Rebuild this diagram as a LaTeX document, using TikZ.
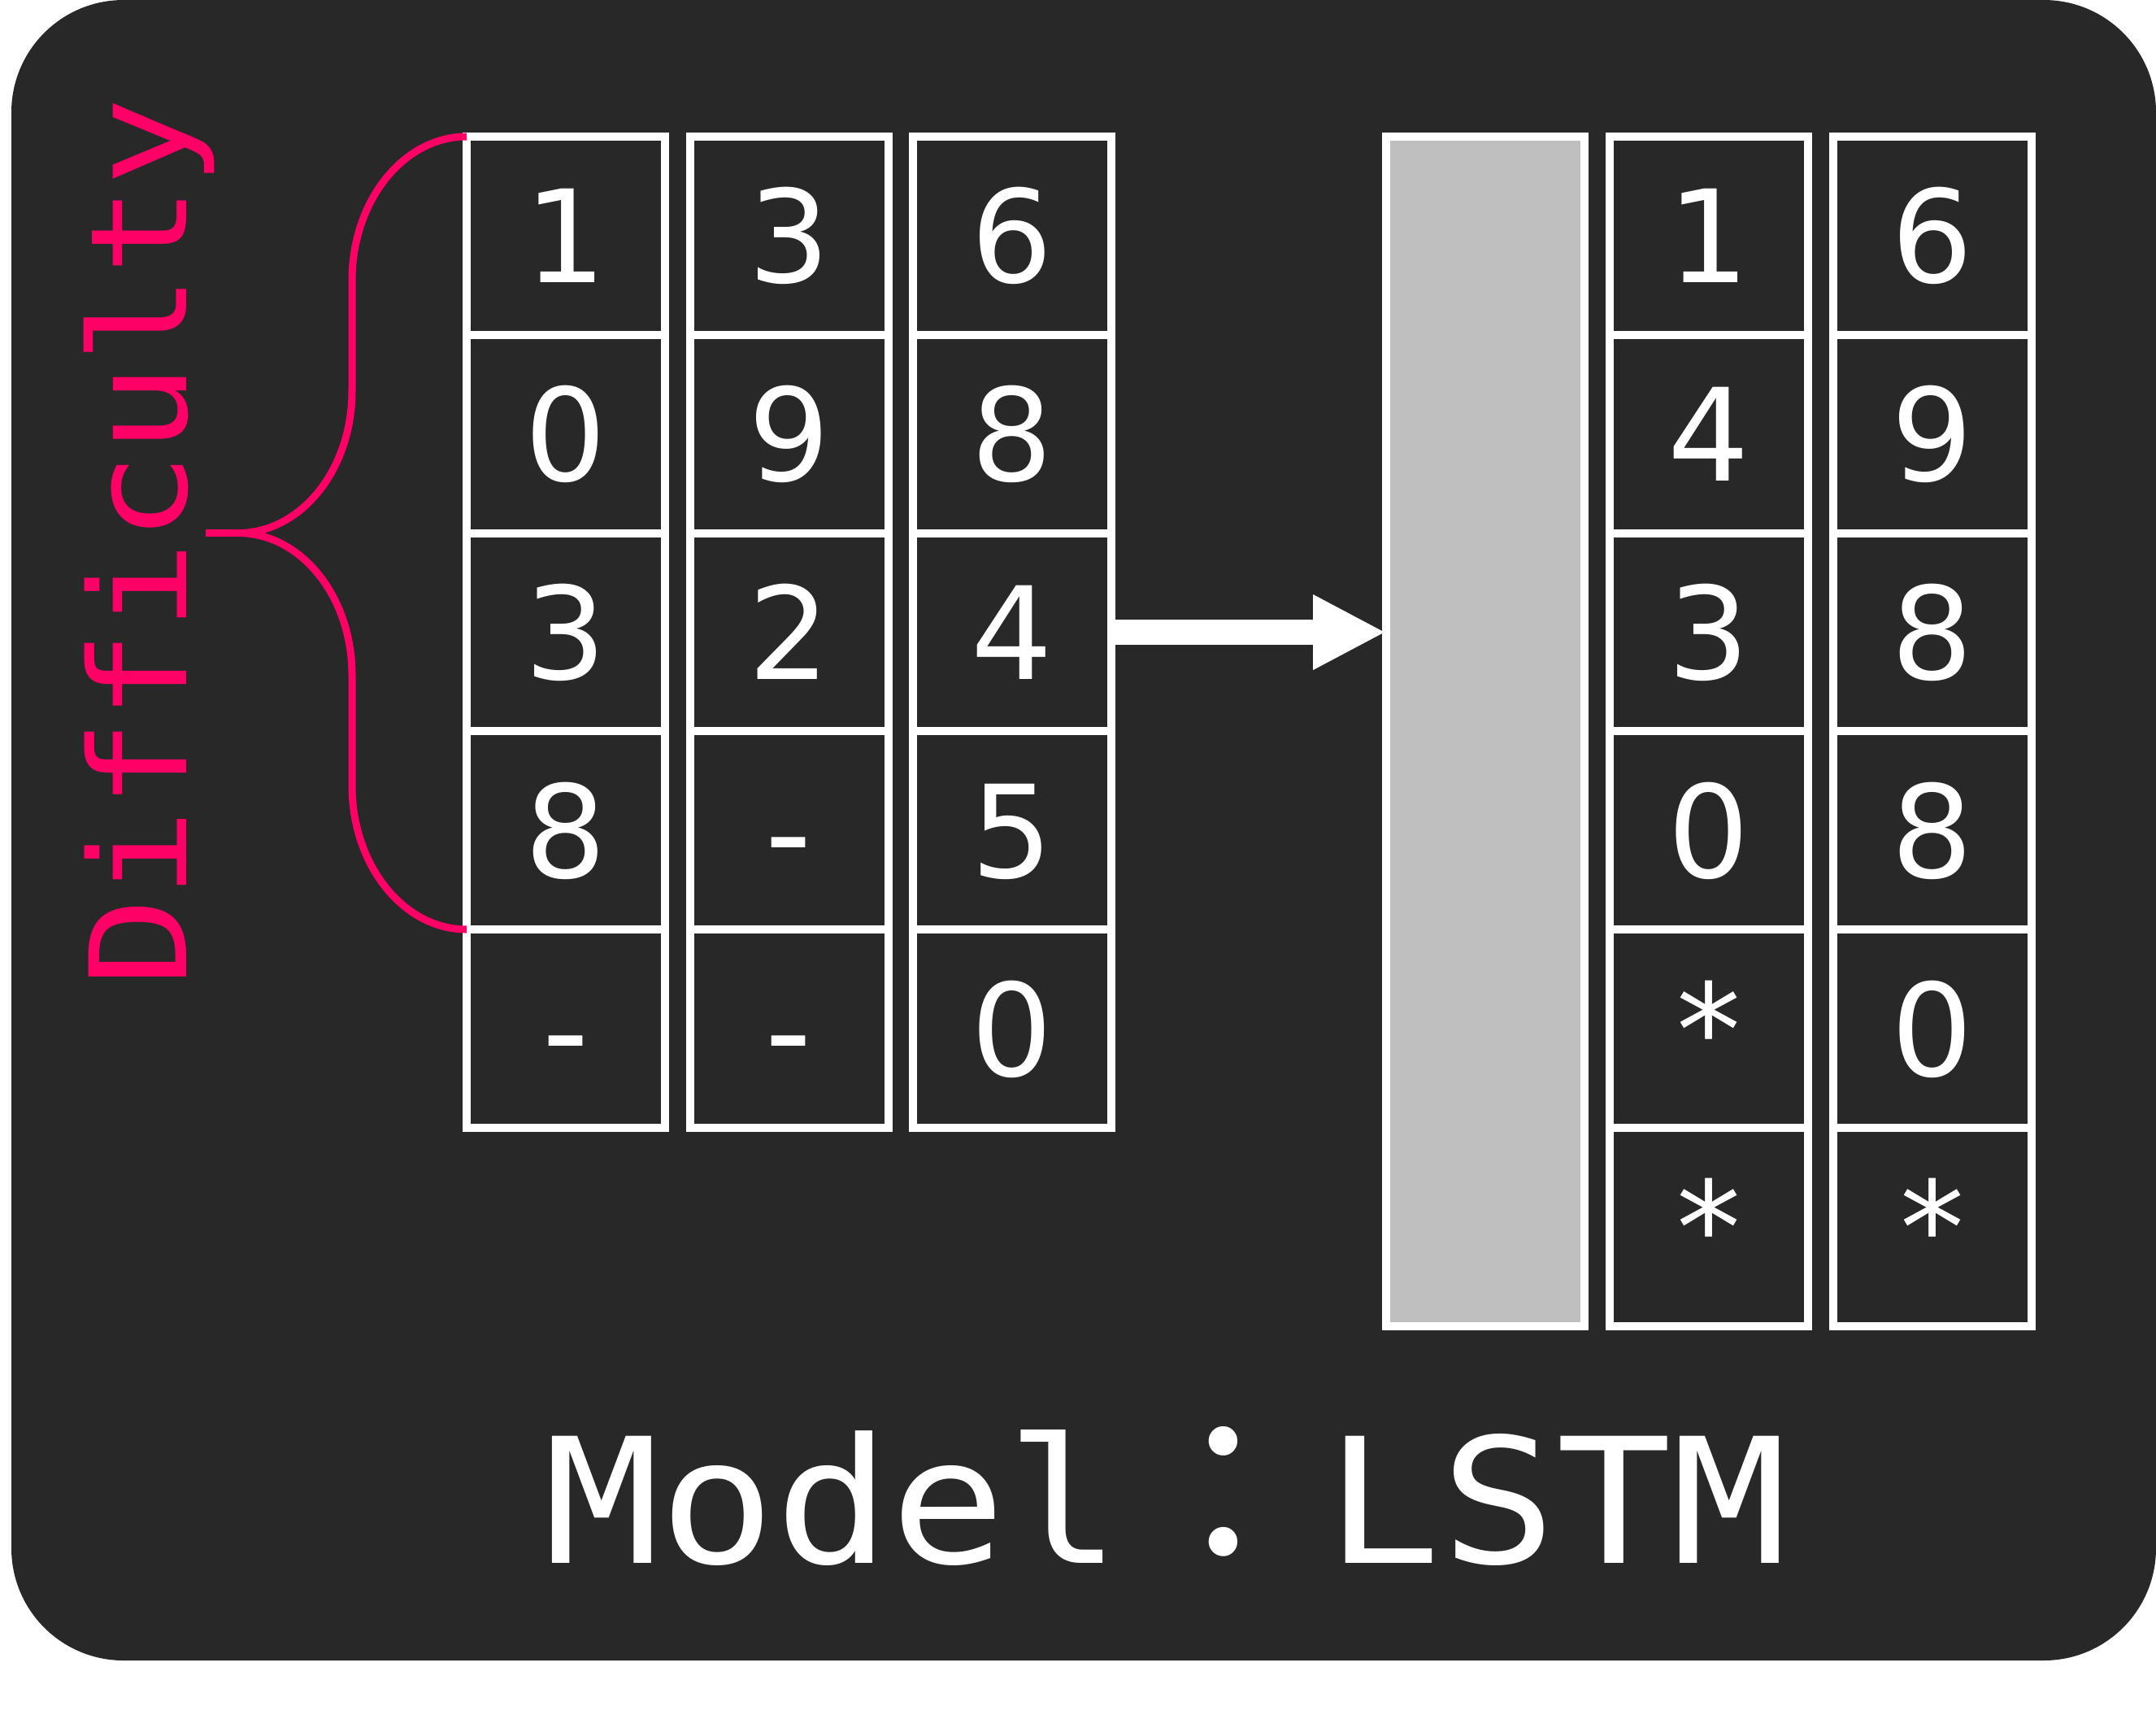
\documentclass[tikz,border=0pt]{standalone}
\usepackage{fontspec}
\usepackage{graphicx}
\setmainfont{DejaVu Sans}
\newfontfamily\labelfont[FakeStretch=1.1]{DejaVu Sans Mono}
\newfontfamily\dotfont{Poppins}
\usetikzlibrary{arrows.meta}

\definecolor{board}{HTML}{282828}
\definecolor{hotpink}{HTML}{FF0066}
\definecolor{lstmgray}{HTML}{BFBFBF}

\begin{document}
\begin{tikzpicture}[
  cell/.style={draw=white, line width=1mm, minimum width=2.44cm, minimum height=2.438cm,
    inner sep=0pt, outer sep=0pt, text=white, font=\fontsize{45}{54}\selectfont,
    text height=1.16cm, text depth=0pt},
  brace/.style={hotpink, line width=0.9mm}
]
  \useasboundingbox (0,0) rectangle (26.52,-21.30);

  % Dark rounded board
  \fill[board, rounded corners=1.38cm] (0.14,0) rectangle (26.52,-20.42);

  % Input sequences, one column each
  \foreach \v [count=\r] in {1,0,3,8,-}
    \node[cell] (seqA\r) at (6.96,{-2.899-(\r-1)*2.438}) {\v};
  \foreach \v [count=\r] in {3,9,2,-,-}
    \node[cell] (seqB\r) at (9.705,{-2.899-(\r-1)*2.438}) {\v};
  \foreach \v [count=\r] in {6,8,4,5,0}
    \node[cell] (seqC\r) at (12.445,{-2.899-(\r-1)*2.438}) {\v};

  % LSTM block
  \node[cell, fill=lstmgray, minimum height=14.628cm] (lstm) at (18.27,-8.994) {};

  % Output sequences, padded with *
  \foreach \v [count=\r] in {1,4,3,0,*,*}
    \node[cell] (outA\r) at (21.02,{-2.899-(\r-1)*2.438}) {\v};
  \foreach \v [count=\r] in {6,9,8,8,0,*}
    \node[cell] (outB\r) at (23.77,{-2.899-(\r-1)*2.438}) {\v};

  % Feed arrow
  \draw[white, line width=3.1mm, -{Triangle[length=9mm, width=8.6mm]}]
    (seqC3.east) -- (seqC3.east -| lstm.west);

  % Brace over the first four rows
  \draw[brace] (seqA1.north west)
    arc[start angle=90, end angle=180, x radius=1.41, y radius=1.77] -- ++(0,-1.36)
    arc[start angle=0, end angle=-90, x radius=1.40, y radius=1.745] coordinate (bracetip)
    arc[start angle=90, end angle=0, x radius=1.40, y radius=1.745] -- ++(0,-1.36)
    arc[start angle=180, end angle=270, x radius=1.41, y radius=1.77];
  \draw[brace] (bracetip) -- ++(-0.40,0);

  \node[text=hotpink, rotate=90, anchor=base, font=\labelfont\fontsize{47}{56}\selectfont]
    (difficulty) at (2.29,-6.665) {Difficulty};

  \node[text=white, anchor=base, font=\labelfont\fontsize{61}{72}\selectfont]
    (model) at (14.34,-19.22)
    {Model\hspace{0.95cm}\raisebox{0.10cm}{\dotfont\scalebox{1.35}{:}}\hspace{0.95cm}LSTM};
\end{tikzpicture}
\end{document}
